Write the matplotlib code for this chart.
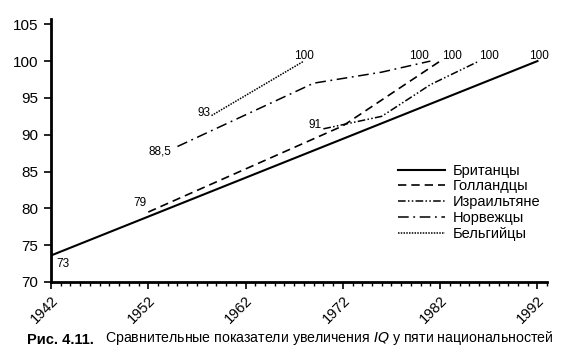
import matplotlib.pyplot as plt
from matplotlib.ticker import MultipleLocator

plt.rcParams['font.family'] = ['Liberation Sans', 'DejaVu Sans']

# Данные (значения IQ по годам)
brit_x = [1942, 1992]
brit_y = [73.6, 100]
goll_x = [1952, 1972, 1982]
goll_y = [79.5, 91.2, 100]
izr_x = [1970, 1976, 1981, 1986]
izr_y = [90.8, 92.5, 96.8, 100]
norv_x = [1955, 1969, 1976, 1981]
norv_y = [88.4, 97, 98.5, 100]
belg_x = [1958.5, 1968]
belg_y = [92.6, 100]

names = ['Британцы', 'Голландцы', 'Израильтяне', 'Норвежцы', 'Бельгийцы']

fig = plt.figure(figsize=(5.69, 3.54), dpi=100)
ax = fig.add_axes([0.0896, 0.2034, 0.872, 0.7426])

ax.plot(brit_x, brit_y, color='black', lw=1.5, label=names[0])
ax.plot(goll_x, goll_y, color='black', lw=1.2, dashes=(5, 3), label=names[1])
ax.plot(izr_x, izr_y, color='black', lw=1.1, dashes=(5, 1.5, 1, 1.5, 1, 1.5), label=names[2])
ax.plot(norv_x, norv_y, color='black', lw=1.1, dashes=(7, 3, 1.2, 3), label=names[3])
ax.plot(belg_x, belg_y, color='black', lw=1.1, dashes=(1, 0.8), label=names[4])

# подписи точек
fs = 8.5
ax.text(1942.6, 72.4, '73', fontsize=fs, ha='left', va='center')
ax.text(1951.8, 79.9, '79', fontsize=fs, ha='right', va='bottom')
ax.text(1954.4, 87.7, '88,5', fontsize=fs, ha='right', va='center')
ax.text(1958.4, 93.0, '93', fontsize=fs, ha='right', va='center')
ax.text(1969.8, 91.3, '91', fontsize=fs, ha='right', va='center')
lab100_x = [1968, 1979.8, 1983.2, 1987, 1992.2]
for x_lab in lab100_x:
    ax.text(x_lab, 99.9, '100', fontsize=fs, ha='center', va='bottom')

ax.set_xlim(1942, 1993)
ax.set_ylim(70, 105.7)
ax.set_yticks(range(70, 106, 5))
ax.set_xticks(range(1942, 1993, 10))
ax.xaxis.set_minor_locator(MultipleLocator(1))
ax.tick_params(axis='both', which='major', direction='out', length=5, width=1.2, labelsize=11, colors='black')
ax.tick_params(axis='x', which='minor', direction='out', length=3, width=1)
ax.tick_params(axis='x', labelsize=10.5, pad=3)
plt.setp(ax.get_xticklabels(), rotation=45, ha='right', rotation_mode='anchor')
ax.tick_params(axis='y', pad=4)

for s in ['top', 'right']:
    ax.spines[s].set_visible(False)
for s in ['left', 'bottom']:
    ax.spines[s].set_linewidth(2)

leg = ax.legend(loc='upper left', bbox_to_anchor=(0.70, 0.45), frameon=False, fontsize=10.5,
                handlelength=3.2, handletextpad=0.5, labelspacing=0.12, borderaxespad=0,
                borderpad=0)

fig.text(0.047, 0.02, 'Рис. 4.11.', fontsize=10.5, fontweight='bold', ha='left', va='bottom')
fig.text(0.185, 0.02, 'Сравнительные показатели увеличения $\\mathit{IQ}$ у пяти национальностей',
         fontsize=10.2, ha='left', va='bottom')

fig.savefig('out.png', dpi=100)
